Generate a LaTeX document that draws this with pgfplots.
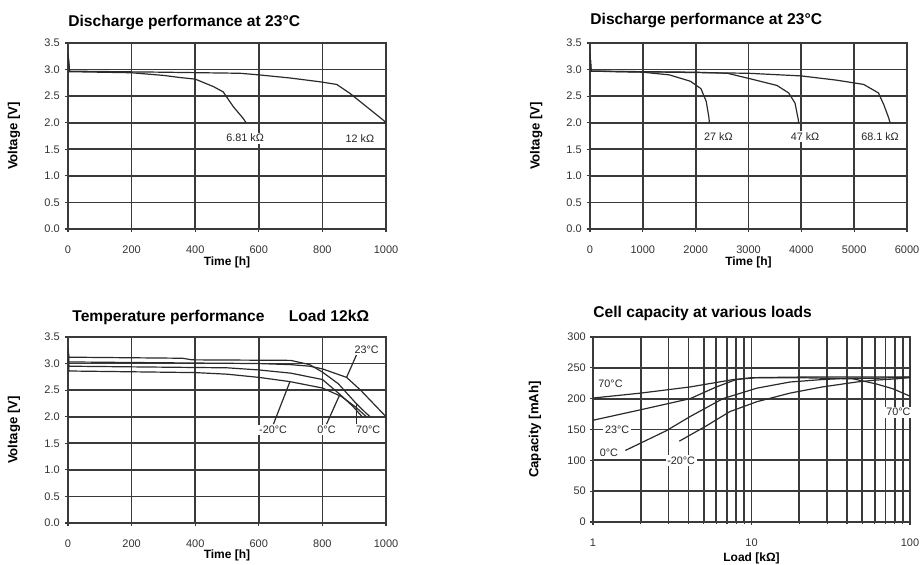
\documentclass[border=0pt]{standalone}
\usepackage{fontspec}
\setmainfont{Liberation Sans}
\usepackage{pgfplots}
\pgfplotsset{compat=1.18}

\definecolor{gridgray}{HTML}{3A3A3A}
\definecolor{curve}{HTML}{2A2A2A}

\tikzset{
  lab/.style={font=\fontsize{5.4}{6}\selectfont, fill=white, inner sep=0.8pt, text=black!85},
  crv/.style={draw=curve, line width=0.6pt, mark=none},
  ttl/.style={font=\bfseries\fontsize{7.8}{9}\selectfont, inner sep=0pt, anchor=base west},
}

\pgfplotsset{
  panel/.style={
    scale only axis, width=159pt, height=93pt, anchor=south west,
    clip mode=individual,
    axis line style={draw=gridgray, line width=0.85pt},
    grid=major,
    major grid style={draw=gridgray, line width=0.85pt},
    minor grid style={draw=gridgray, line width=0.85pt},
    tick align=outside, major tick length=1.6pt, minor tick length=1.2pt,
    tick style={draw=gridgray, line width=0.6pt},
    xtick pos=bottom, ytick pos=left,
    tick label style={font=\fontsize{5.5}{6.5}\selectfont, text=black!80},
    xticklabel style={yshift=-3.5pt},
    yticklabel style={xshift=1pt},
    /pgf/number format/assume math mode=true,
    /pgf/number format/1000 sep={},
    xlabel style={font=\bfseries\fontsize{6}{7}\selectfont,
      at={(axis description cs:0.5,-0.18)}, anchor=center},
    ylabel style={font=\bfseries\fontsize{6.6}{7.5}\selectfont,
      at={(axis description cs:-0.17,0.5)}, anchor=center},
  },
  volt/.style={ymin=0, ymax=3.5, ytick={0,0.5,1,1.5,2,2.5,3,3.5},
    yticklabel style={/pgf/number format/fixed, /pgf/number format/fixed zerofill,
      /pgf/number format/precision=1},
    ylabel={Voltage [V]}, xlabel={Time [h]}},
}

\begin{document}
\begin{tikzpicture}
\useasboundingbox (0,0) rectangle (460pt,282.5pt);

% top left: discharge 6.81k / 12k
\begin{axis}[panel, volt, at={(34pt,168pt)},
  xmin=0, xmax=1000, xtick={0,200,400,600,800,1000}]
\addplot[crv] coordinates {(0,3.3) (5,2.96) (200,2.94) (300,2.89) (352,2.85) (400,2.82)
  (457,2.68) (488,2.58) (520,2.3) (551,2.08) (560,2.0)};
\addplot[crv] coordinates {(0,3.3) (5,2.97) (300,2.95) (541,2.93) (600,2.9) (700,2.84)
  (792,2.77) (845,2.72) (887,2.55) (939,2.3) (991,2.05) (1000,2.0)};
\node[lab] at (axis cs:557,1.71) {6.81 kΩ};
\node[lab] at (axis cs:918,1.71) {12 kΩ};
\node[ttl, yshift=8pt] at (rel axis cs:0,1) {Discharge performance at 23°C};
\end{axis}

% top right: discharge 27k / 47k / 68.1k
\begin{axis}[panel, volt, at={(295pt,168pt)}, width=158.5pt,
  xmin=0, xmax=6000, xtick={0,1000,2000,3000,4000,5000,6000}]
\addplot[crv] coordinates {(0,3.3) (20,2.97) (1000,2.95) (1500,2.9) (1900,2.78) (2100,2.64)
  (2200,2.4) (2250,2.1) (2260,2.0)};
\addplot[crv] coordinates {(0,3.3) (20,2.97) (2000,2.95) (2600,2.93) (3100,2.81) (3540,2.7)
  (3760,2.56) (3880,2.37) (3940,2.07) (3950,2.0)};
\addplot[crv] coordinates {(0,3.3) (20,2.97) (3000,2.93) (4000,2.88) (4670,2.8) (5180,2.72)
  (5460,2.56) (5560,2.34) (5650,2.1) (5680,2.0)};
\node[lab] at (axis cs:2430,1.74) {27 kΩ};
\node[lab] at (axis cs:4070,1.74) {47 kΩ};
\node[lab] at (axis cs:5490,1.74) {68.1 kΩ};
\node[ttl, yshift=9pt] at (rel axis cs:0,1) {Discharge performance at 23°C};
\end{axis}

% bottom left: temperature performance
\begin{axis}[panel, volt, at={(34pt,21pt)},
  xmin=0, xmax=1000, xtick={0,200,400,600,800,1000},
  xlabel style={at={(axis description cs:0.5,-0.172)}}]
% 70 C
\addplot[crv] coordinates {(0,3.3) (3,3.12) (360,3.1) (390,3.07) (700,3.06) (760,2.98)
  (800,2.84) (850,2.62) (906,2.25) (935,2.08) (950,2.0)};
% 23 C
\addplot[crv] coordinates {(0,3.25) (3,3.03) (600,3.0) (700,2.98) (760,2.95) (800,2.9)
  (876,2.74) (920,2.5) (960,2.25) (1000,2.0)};
% 0 C
\addplot[crv] coordinates {(0,3.2) (3,2.95) (500,2.92) (600,2.88) (700,2.82) (800,2.7)
  (855,2.42) (895,2.2) (925,2.0)};
% -20 C
\addplot[crv] coordinates {(0,3.15) (3,2.86) (400,2.83) (500,2.8) (600,2.74) (698,2.66)
  (800,2.54) (860,2.38) (905,2.18) (938,2.0)};
\draw[crv] (axis cs:646,1.86) -- (axis cs:698,2.66);
\draw[crv] (axis cs:813,1.86) -- (axis cs:855,2.42);
\draw[crv] (axis cs:906,1.86) -- (axis cs:906,2.25);
\draw[crv] (axis cs:907,3.16) -- (axis cs:876,2.74);
\node[lab] at (axis cs:645,1.75) {-20°C};
\node[lab] at (axis cs:813,1.75) {0°C};
\node[lab] at (axis cs:944,1.75) {70°C};
\node[lab] at (axis cs:939,3.26) {23°C};
\node[ttl, yshift=7.5pt, xshift=2pt] at (rel axis cs:0,1) {Temperature performance\hspace{10pt} Load 12kΩ};
\end{axis}

% bottom right: capacity vs load
\begin{axis}[panel, at={(296.5pt,21.5pt)}, width=158.5pt, height=92.5pt,
  xmode=log, xmin=1, xmax=100, ymin=0, ymax=300,
  log ticks with fixed point,
  xtick={1,10,100}, minor xtick={2,3,4,5,6,7,8,9,20,30,40,50,60,70,80,90},
  ytick={0,50,100,150,200,250,300},
  grid=both,
  xlabel={Load [kΩ]}, ylabel={Capacity [mAh]},
  xlabel style={at={(axis description cs:0.5,-0.195)}},
  ylabel style={at={(axis description cs:-0.183,0.5)}},
  yticklabel style={xshift=0.5pt}]
% 70 C
\addplot[crv] coordinates {(1,201) (2,209) (4.1,219) (7.7,231) (10.8,234) (20,234) (30,233)
  (44,232) (61,224) (78,216) (100,204)};
% 23 C
\addplot[crv] coordinates {(1,165) (2,182) (4.1,200) (6,219) (8,231) (10,234) (20,235)
  (50,235) (100,235)};
% 0 C
\addplot[crv] coordinates {(1.6,116) (2.9,148) (4.1,171) (6.6,200) (10.8,217) (17.5,227)
  (28,231) (40,233) (60,233) (100,235)};
% -20 C
\addplot[crv] coordinates {(3.5,131) (5.2,156) (7.3,179) (10.8,195) (17.5,209) (28,219)
  (46,227) (60,230) (80,232) (100,234)};
\node[lab] at (axis cs:1.29,224) {70°C};
\node[lab] at (axis cs:1.42,150) {23°C};
\node[lab] at (axis cs:1.26,112) {0°C};
\node[lab] at (axis cs:3.6,100) {-20°C};
\node[lab] at (axis cs:84.4,178) {70°C};
\node[ttl, yshift=9.5pt] at (rel axis cs:0,1) {Cell capacity at various loads};
\end{axis}
\end{tikzpicture}
\end{document}
